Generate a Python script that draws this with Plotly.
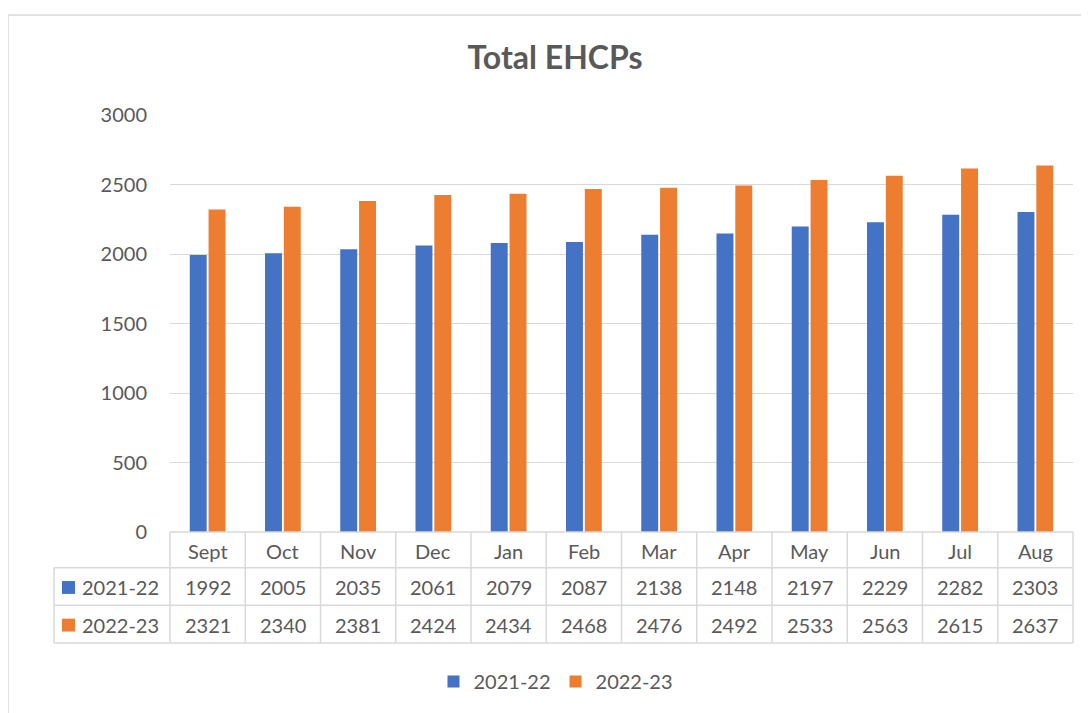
import plotly.graph_objects as go

months = ["Sept", "Oct", "Nov", "Dec", "Jan", "Feb", "Mar", "Apr", "May", "Jun", "Jul", "Aug"]
series_names = ["2021-22", "2022-23"]
values_2021_22 = [1992, 2005, 2035, 2061, 2079, 2087, 2138, 2148, 2197, 2229, 2282, 2303]
values_2022_23 = [2321, 2340, 2381, 2424, 2434, 2468, 2476, 2492, 2533, 2563, 2615, 2637]
y_ticks = [0, 500, 1000, 1500, 2000, 2500, 3000]

colors = ["#4472C4", "#ED7D31"]
text_color = "#595959"
line_color = "#D9D9D9"
FONT = "Lato"

OFF = 8  # page body margin
W, H = 1089 - OFF, 713 - OFF
# plot area in page pixels: x 170..1073, y 115..536
L = 170 - OFF
T = 115 - OFF
R = W - (1073 - OFF)
B = H - (536 - OFF)
pw = W - L - R
ph = H - T - B


def px_x(p):
    return (p - OFF - L) / pw


def px_y(p):
    return (H - B - (p - OFF)) / ph


fig = go.Figure()
for name, vals, col in zip(series_names, [values_2021_22, values_2022_23], colors):
    fig.add_trace(go.Bar(x=months, y=vals, name=name, marker=dict(color=col, line=dict(width=0))))

shapes = []
# chart border
shapes.append(dict(type="rect", xref="paper", yref="paper",
                   x0=px_x(8), x1=px_x(1110), y0=px_y(14), y1=px_y(740),
                   line=dict(color=line_color, width=1.5), layer="below"))

# table geometry (page pixels)
row_tops = [536, 572, 610, 648]
left_col = 54
n = len(months)
lw = 1.5
shapes.append(dict(type="line", xref="paper", yref="paper", x0=0, x1=1,
                   y0=px_y(row_tops[0]), y1=px_y(row_tops[0]), line=dict(color=line_color, width=lw)))
for yy in row_tops[1:]:
    shapes.append(dict(type="line", xref="paper", yref="paper", x0=px_x(left_col), x1=1,
                       y0=px_y(yy), y1=px_y(yy), line=dict(color=line_color, width=lw)))
shapes.append(dict(type="line", xref="paper", yref="paper", x0=px_x(left_col), x1=px_x(left_col),
                   y0=px_y(row_tops[1]), y1=px_y(row_tops[3]), line=dict(color=line_color, width=lw)))
for k in range(n + 1):
    shapes.append(dict(type="line", xref="paper", yref="paper", x0=k / n, x1=k / n,
                       y0=px_y(row_tops[0]), y1=px_y(row_tops[3]), line=dict(color=line_color, width=lw)))

annotations = []
row_centers = [(row_tops[i] + row_tops[i + 1]) / 2 + 1 for i in range(3)]
for m in months:
    annotations.append(dict(x=m, xref="x", y=px_y(row_centers[0]), yref="paper", text=m,
                            showarrow=False, xanchor="center", yanchor="middle",
                            font=dict(family=FONT, size=20, color=text_color)))
for r, vals in enumerate([values_2021_22, values_2022_23]):
    for m, v in zip(months, vals):
        annotations.append(dict(x=m, xref="x", y=px_y(row_centers[r + 1]), yref="paper", text=str(v),
                                showarrow=False, xanchor="center", yanchor="middle",
                                font=dict(family=FONT, size=20, color=text_color)))
    yc = row_centers[r + 1]
    shapes.append(dict(type="rect", xref="paper", yref="paper",
                       x0=px_x(62), x1=px_x(75), y0=px_y(yc - 6.5), y1=px_y(yc + 6.5),
                       fillcolor=colors[r], line=dict(width=0)))
    annotations.append(dict(x=px_x(80), xref="paper", y=px_y(yc), yref="paper", text=series_names[r],
                            showarrow=False, xanchor="left", yanchor="middle",
                            font=dict(family=FONT, size=20, color=text_color)))

fig.update_layout(
    width=W, height=H,
    margin=dict(l=L, r=R, t=T, b=B),
    paper_bgcolor="white", plot_bgcolor="white",
    title=dict(text="<b>Total EHCPs</b>", x=px_x(555), xref="paper", xanchor="center",
               y=1 - (58 - OFF) / H, yanchor="middle",
               font=dict(family=FONT, size=32, color=text_color)),
    barmode="group", bargap=0.5, bargroupgap=0.1,
    xaxis=dict(showticklabels=False, showgrid=False, showline=False, ticks="", zeroline=False),
    yaxis=dict(range=[0, 3000], tickvals=y_ticks, showgrid=True, gridcolor=line_color, gridwidth=1.4,
               zeroline=False, showline=False, ticks="", ticklabelstandoff=22,
               tickfont=dict(family=FONT, size=20, color=text_color)),
    showlegend=True,
    legend=dict(orientation="h", x=px_x(556), xanchor="center", y=px_y(687), yanchor="middle",
                font=dict(family=FONT, size=20, color=text_color), itemwidth=30,
                bgcolor="rgba(0,0,0,0)"),
    shapes=shapes,
    annotations=annotations,
)

fig.write_html("out.html")
